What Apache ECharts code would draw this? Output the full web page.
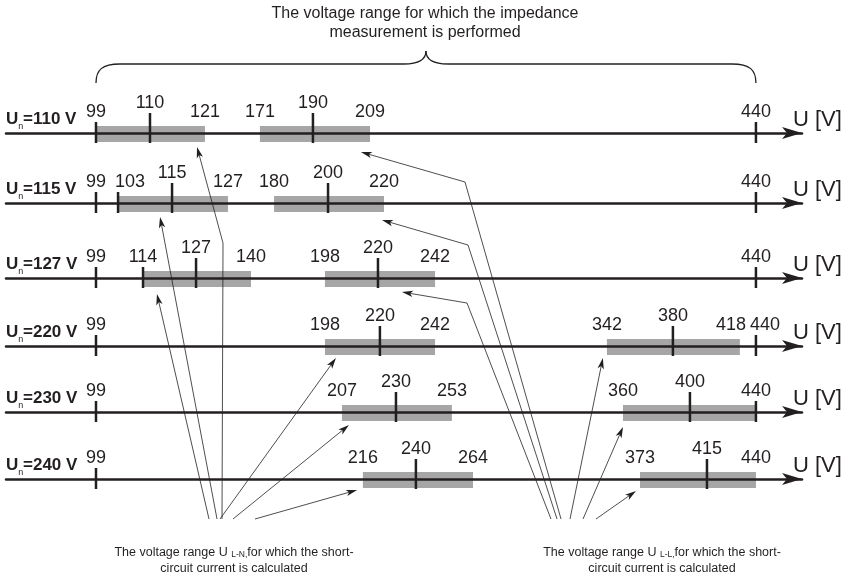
<!DOCTYPE html>
<html>
<head>
<meta charset="utf-8">
<script src="https://cdn.jsdelivr.net/npm/echarts@6/dist/echarts.min.js"></script>
<style>
html,body{margin:0;padding:0;background:#fff}
#main{width:850px;height:576px}
</style>
</head>
<body>
<div id="main"></div>
<script>
// nominal voltage of each row
let nominal = [110, 115, 127, 220, 230, 240];
// U L-N range: lower, nominal, upper
let lnRange = [[99,110,121],[103,115,127],[114,127,140],[198,220,242],[207,230,253],[216,240,264]];
// U L-L range: lower, nominal, upper
let llRange = [[171,190,209],[180,200,220],[198,220,242],[342,380,418],[360,400,440],[373,415,440]];
// where those values sit on the (not to scale) axis
let lnPos = [[99,126.9,155.3],[110.4,138.3,167.2],[123.3,150.7,179.1],[217.3,245.7,274.2],[226.1,254.0,282.9],[236.9,264.3,293.8]];
let llPos = [[183.7,211.1,240.6],[191.0,218.9,247.8],[217.3,244.7,274.2],[363.0,397.1,431.7],[371.3,405.9,440],[380.1,414.7,440]];
// tick marks on each axis
let tickVals = [[99,110,190,440],[99,103,115,200,440],[99,114,127,220,440],[99,220,380,440],[99,230,400,440],[99,240,415]];
// measuring range ends
let rangeEnds = [99, 440];
// callout tips (axis position) for L-N and L-L bars
let lnTip = [151.2,132.1,130.5,223.0,229.7,233.9];
let llTip = [235.9,246.8,257.1,360.9,371.3,378.0];

var ink = '#231f20';
var grey = '#a6a6a6';
var font = 'Liberation Sans, Arial, sans-serif';
var lineY = [133, 203, 278, 346, 412, 479];
var xMin = 52.5, xMax = 463.8;

var chart = echarts.init(document.getElementById('main'));
window.addEventListener('resize', function () { chart.resize(); });

function posOf(r, v) {
    if (v === rangeEnds[0]) return rangeEnds[0];
    if (v === rangeEnds[1]) return rangeEnds[1];
    var i = lnRange[r].indexOf(v);
    if (i >= 0) return lnPos[r][i];
    i = llRange[r].indexOf(v);
    return llPos[r][i];
}
function isMid(r, v) {
    return lnRange[r][1] === v || llRange[r][1] === v;
}

function rowRender(r) {
    return function (params, api) {
        var cs = params.coordSys;
        var base = cs.y + cs.height;
        var X = function (v) { return api.coord([v, 0])[0]; };
        var kids = [];
        // grey ranges
        [lnPos[r], llPos[r]].forEach(function (p) {
            var a = X(p[0]), b = X(p[2]);
            kids.push({type: 'rect', shape: {x: a, y: base - 7, width: b - a, height: 16}, style: {fill: grey}});
        });
        // ticks
        tickVals[r].forEach(function (v) {
            var x = X(posOf(r, v));
            var top = isMid(r, v) ? base - 20 : base - 11;
            kids.push({type: 'line', shape: {x1: x, y1: top, x2: x, y2: base + 10},
                style: {stroke: ink, lineWidth: 2.5}, z2: 5});
        });
        // value labels
        var vals = [rangeEnds[0]].concat(lnRange[r], llRange[r], [rangeEnds[1]]);
        var seen = {}, labs = [];
        vals.forEach(function (v) {
            if (seen[v]) return;
            seen[v] = 1;
            labs.push({v: v, x: X(posOf(r, v))});
        });
        labs.sort(function (a, b) { return a.x - b.x; });
        for (var i = 1; i < labs.length; i++) {
            var a = labs[i - 1], b = labs[i];
            if (b.x - a.x < 34) {
                if (a.v === rangeEnds[0]) b.x = a.x + 34;
                else { var m = (a.x + b.x) / 2; a.x = m - 17; b.x = m + 17; }
            }
        }
        labs.forEach(function (l) {
            kids.push({type: 'text', x: l.x, y: base - (isMid(r, l.v) ? 30 : 21),
                style: {text: String(l.v), fill: ink, font: '18px ' + font, textAlign: 'center', textVerticalAlign: 'middle'}});
        });
        // row name
        kids.push({type: 'text', x: cs.x, y: base - 5,
            style: {text: 'U', fill: ink, font: 'bold 17px ' + font, textAlign: 'left', textVerticalAlign: 'bottom'}});
        kids.push({type: 'text', x: cs.x + 12.3, y: base - 2,
            style: {text: 'n', fill: ink, font: '9px ' + font, textAlign: 'left', textVerticalAlign: 'bottom'}});
        kids.push({type: 'text', x: cs.x + 17, y: base - 5,
            style: {text: '=' + nominal[r] + ' V', fill: ink, font: 'bold 17px ' + font, textAlign: 'left', textVerticalAlign: 'bottom'}});
        // axis name
        kids.push({type: 'text', x: cs.x + cs.width - 9, y: base - 13,
            style: {text: 'U [V]', fill: ink, font: '22px ' + font, textAlign: 'left', textVerticalAlign: 'middle'}});
        // brace over the measuring range
        if (r === 0) {
            var x0 = X(rangeEnds[0]), x1 = X(rangeEnds[1]), xm = (x0 + x1) / 2;
            var yb = base - 50, yh = base - 69, yc = base - 82;
            var bs = {stroke: ink, lineWidth: 1.3, fill: null};
            kids.push({type: 'bezierCurve', shape: {x1: x0, y1: yb, cpx1: x0, cpy1: yh + 6, cpx2: x0 + 6, cpy2: yh, x2: x0 + 24, y2: yh}, style: bs});
            kids.push({type: 'line', shape: {x1: x0 + 24, y1: yh, x2: xm - 22, y2: yh}, style: bs});
            kids.push({type: 'bezierCurve', shape: {x1: xm - 22, y1: yh, cpx1: xm - 7, cpy1: yh, cpx2: xm, cpy2: yh - 4, x2: xm, y2: yc}, style: bs});
            kids.push({type: 'bezierCurve', shape: {x1: xm + 22, y1: yh, cpx1: xm + 7, cpy1: yh, cpx2: xm, cpy2: yh - 4, x2: xm, y2: yc}, style: bs});
            kids.push({type: 'line', shape: {x1: xm + 22, y1: yh, x2: x1 - 24, y2: yh}, style: bs});
            kids.push({type: 'bezierCurve', shape: {x1: x1, y1: yb, cpx1: x1, cpy1: yh + 6, cpx2: x1 - 6, cpy2: yh, x2: x1 - 24, y2: yh}, style: bs});
        }
        return {type: 'group', children: kids};
    };
}

// callout lines: tip below a bar, optional bend, foot above the caption
var footY = 519;
var callouts = [];
var lnDy = [14, 14, 16, 12, 13, 11], llDy = [19, 17, 14, 12, 15, 12];
var lnFoot = [222, 217, 209, 220, 233, 255], llFoot = [561, 557, 551, 570, 583, 596];
var lnBend = [[223, 243], null, null, null, null, null];
var llBend = [[465, 182], [468, 245], [467, 303], null, null, null];
for (var r = 0; r < 6; r++) {
    callouts.push({row: r, tip: lnTip[r], dy: lnDy[r], bend: lnBend[r], foot: lnFoot[r]});
    callouts.push({row: r, tip: llTip[r], dy: llDy[r], bend: llBend[r], foot: llFoot[r]});
}

function calloutRender(params, api) {
    var c = callouts[params.dataIndex];
    var tx = api.coord([c.tip, 0])[0], ty = lineY[c.row] + c.dy;
    var pts = [[c.foot, footY]];
    if (c.bend) pts.push(c.bend);
    pts.push([tx, ty]);
    var p = pts[pts.length - 2];
    var dx = tx - p[0], dy = ty - p[1], len = Math.sqrt(dx * dx + dy * dy);
    var ux = dx / len, uy = dy / len, L = 11, w = 3.2;
    var head = [
        [tx, ty],
        [tx - L * ux - w * uy, ty - L * uy + w * ux],
        [tx - 0.75 * L * ux, ty - 0.75 * L * uy],
        [tx - L * ux + w * uy, ty - L * uy - w * ux]
    ];
    var body = pts.slice(0, -1).concat([[tx - 0.75 * L * ux, ty - 0.75 * L * uy]]);
    return {type: 'group', children: [
        {type: 'polyline', shape: {points: body}, style: {stroke: ink, lineWidth: 0.8, fill: null}},
        {type: 'polygon', shape: {points: head}, style: {fill: ink}}
    ]};
}

var grids = [], xAxes = [], yAxes = [], series = [];
lineY.forEach(function (y, r) {
    grids.push({left: 6, right: 48, top: y - 40, height: 40});
    xAxes.push({
        gridIndex: r, type: 'value', min: xMin, max: xMax, z: 3,
        axisLine: {onZero: false, symbol: ['none', 'arrow'], symbolSize: [9, 20], lineStyle: {color: ink, width: 2.5}},
        axisTick: {show: false}, axisLabel: {show: false}, splitLine: {show: false}
    });
    yAxes.push({gridIndex: r, type: 'value', min: 0, max: 40, show: false});
    series.push({
        type: 'custom', xAxisIndex: r, yAxisIndex: r, z: 1, clip: false, silent: true,
        data: [[rangeEnds[0], 0]], renderItem: rowRender(r)
    });
});
series.push({
    type: 'custom', xAxisIndex: 5, yAxisIndex: 5, z: 6, clip: false, silent: true,
    data: callouts.map(function (c, i) { return [c.tip, i]; }), renderItem: calloutRender
});

var capFont = '"Liberation Sans Narrow", "Arial Narrow", ' + font;
var option = {
    backgroundColor: '#fff',
    animation: false,
    grid: grids,
    xAxis: xAxes,
    yAxis: yAxes,
    series: series,
    graphic: [
        {type: 'text', x: 425, y: 4, style: {
            text: 'The voltage range for which the impedance\nmeasurement is performed',
            fill: ink, font: '16px ' + capFont, textAlign: 'center', lineHeight: 19}},
        {type: 'text', x: 234, y: 545, style: {
            text: '{t|The voltage range U }{s|L-N,}{t|for which the short-}\n{t|circuit current is calculated}',
            fill: ink, textAlign: 'center',
            rich: {t: {font: '12.5px ' + capFont, lineHeight: 16, fill: ink},
                   s: {font: '8.5px ' + capFont, lineHeight: 16, fill: ink, padding: [4, 0, 0, 0]}}}},
        {type: 'text', x: 662, y: 545, style: {
            text: '{t|The voltage range U }{s|L-L,}{t|for which the short-}\n{t|circuit current is calculated}',
            fill: ink, textAlign: 'center',
            rich: {t: {font: '12.5px ' + capFont, lineHeight: 16, fill: ink},
                   s: {font: '8.5px ' + capFont, lineHeight: 16, fill: ink, padding: [4, 0, 0, 0]}}}}
    ]
};
chart.setOption(option);
</script>
</body>
</html>
